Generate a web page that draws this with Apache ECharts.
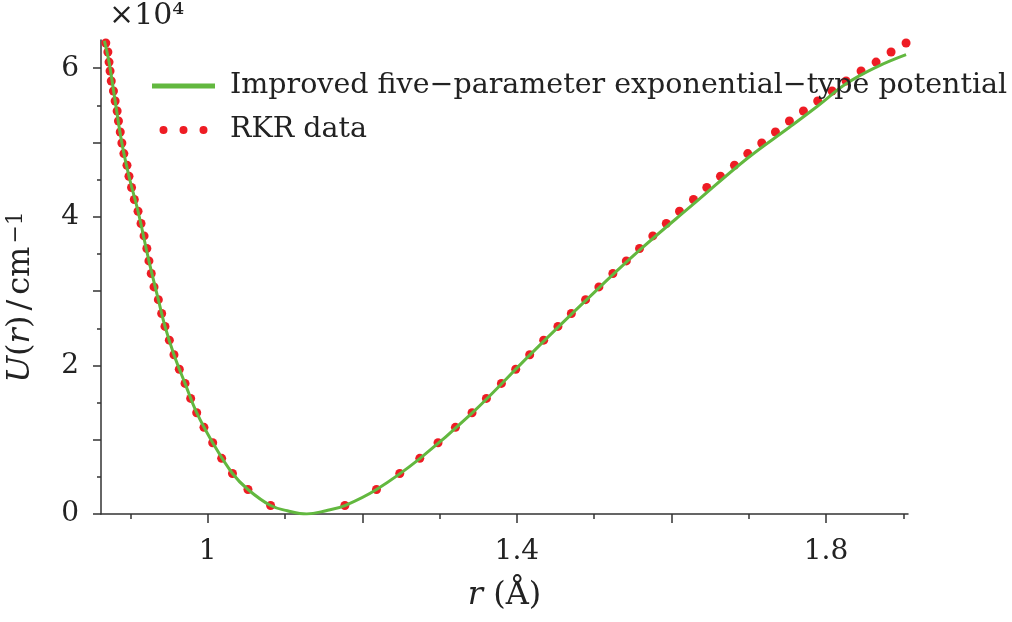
<!DOCTYPE html>
<html>
<head>
<meta charset="utf-8">
<style>
  html, body { margin: 0; padding: 0; background: #fff; }
  #chart { width: 1012px; height: 622px; }
</style>
<script src="https://cdn.jsdelivr.net/npm/echarts@6/dist/echarts.min.js"></script>
</head>
<body>
<div id="chart"></div>
<script>
// RKR turning points: energy levels (cm^-1) with inner / outer r (Å)
var levelU = [1140, 3300, 5450, 7490, 9590, 11660, 13630, 15560, 17580, 19480,
              21430, 23400, 25250, 26990, 28850, 30570, 32370, 34070, 35740, 37430,
              39100, 40750, 42330, 43940, 45460, 46940, 48510, 49940, 51420, 52900,
              54240, 55590, 56930, 58280, 59620, 60830, 62180, 63390];
var innerR = [1.0814, 1.0521, 1.0321, 1.0181, 1.0065, 0.9952, 0.9858, 0.9780, 0.9707, 0.9633,
              0.9564, 0.9504, 0.9448, 0.9405, 0.9362, 0.9306, 0.9270, 0.9240, 0.9213, 0.9177,
              0.9138, 0.9099, 0.9051, 0.9015, 0.8982, 0.8956, 0.8916, 0.8890, 0.8869, 0.8846,
              0.8829, 0.8803, 0.8781, 0.8753, 0.8737, 0.8724, 0.8709, 0.8682];
var outerR = [1.1775, 1.2184, 1.2485, 1.2744, 1.2980, 1.3205, 1.3420, 1.3606, 1.3800, 1.3985,
              1.4166, 1.4347, 1.4531, 1.4705, 1.4889, 1.5061, 1.5242, 1.5416, 1.5587, 1.5759,
              1.5933, 1.6104, 1.6285, 1.6457, 1.6634, 1.6815, 1.6987, 1.7168, 1.7345, 1.7526,
              1.7707, 1.7892, 1.8078, 1.8259, 1.8453, 1.8647, 1.8841, 1.9035];

// improved five-parameter exponential-type potential (green curve)
var fitR = [0.8664, 0.8724, 0.8803, 0.8890, 0.8982, 0.9099, 0.9240, 0.9362, 0.9448, 0.9564,
            0.9707, 0.9858, 1.0065, 1.0321, 1.0521, 1.0814, 1.1030, 1.1280, 1.1530, 1.1775,
            1.2184, 1.2744, 1.3420, 1.4166, 1.4889, 1.5587, 1.6298, 1.6983, 1.7526, 1.7888,
            1.8263, 1.8651, 1.9035];
var fitU = [63700, 60830, 55590, 49940, 45460, 40750, 34070, 28850, 25250, 21430,
            17580, 13630, 9590, 5450, 3300, 1140, 440, 0, 440, 1140,
            3300, 7460, 13580, 21390, 28720, 35510, 41830, 47880, 52050, 54880,
            57930, 60160, 61830];

var xLabelTicks = [1, 1.4, 1.8];
var xMajorTicks = [1, 1.2, 1.4, 1.6, 1.8];
var xMinorTicks = [0.9, 1.1, 1.3, 1.5, 1.7, 1.9];
var yLabelTicks = [0, 20000, 40000, 60000];
var yMajorTicks = [0, 10000, 20000, 30000, 40000, 50000, 60000];
var yMinorTicks = [5000, 15000, 25000, 35000, 45000, 55000];

var font = 'DejaVu Serif';
var ink = '#222';
var green = '#62b83f';
var red = '#ee1c24';

var rkr = [];
for (var i = 0; i < levelU.length; i++) {
    rkr.push([innerR[i], levelU[i]]);
    rkr.push([outerR[i], levelU[i]]);
}
var fit = [];
for (var j = 0; j < fitR.length; j++) {
    fit.push([fitR[j], fitU[j]]);
}

var axisLine = { show: true, lineStyle: { color: '#333', width: 1.5 } };
var tickStyle = { color: '#333', width: 1.5 };

var myChart = echarts.init(document.getElementById('chart'));

var option = {
    animation: false,
    title: {
        text: '×10⁴',
        left: 104,
        top: -4,
        textStyle: { fontFamily: font, fontSize: 30, fontWeight: 'normal', color: ink }
    },
    legend: {
        orient: 'vertical',
        left: 147,
        top: 65,
        itemWidth: 63,
        itemHeight: 8,
        itemGap: 12,
        textStyle: { fontFamily: font, fontSize: 28.5, color: ink, lineHeight: 32, padding: [0, 0, 0, 10] },
        data: [
            { name: 'Improved five−parameter exponential−type potential',
              icon: 'path://M0,0H63V5H0Z',
              itemStyle: { color: green, borderWidth: 0 } },
            { name: 'RKR data',
              icon: 'path://M0,4a4,4 0 1,0 8,0a4,4 0 1,0 -8,0M20,4a4,4 0 1,0 8,0a4,4 0 1,0 -8,0M40,4a4,4 0 1,0 8,0a4,4 0 1,0 -8,0Z',
              itemStyle: { color: red, borderWidth: 0 } }
        ]
    },
    grid: { left: 101, right: 104, top: 40, bottom: 108, containLabel: false, outerBoundsMode: 'none' },
    xAxis: [
        {
            type: 'value', min: 0.862, max: 1.906, position: 'bottom',
            axisLine: axisLine,
            axisTick: { show: true, customValues: xMajorTicks, length: 9, lineStyle: tickStyle },
            axisLabel: { customValues: xLabelTicks, fontFamily: font, fontSize: 28, color: ink, margin: 24,
                         formatter: function (v) { return String(+v.toFixed(1)); } },
            splitLine: { show: false },
            name: '{i|r} (Å)',
            nameLocation: 'middle',
            nameGap: 66,
            nameTextStyle: { fontFamily: font, fontSize: 32, color: ink,
                             rich: { i: { fontFamily: font, fontSize: 32, fontStyle: 'italic', color: ink } } }
        },
        {
            type: 'value', min: 0.862, max: 1.906, position: 'bottom',
            axisLine: { show: false },
            axisTick: { show: true, customValues: xMinorTicks, length: 5, lineStyle: tickStyle },
            axisLabel: { show: false },
            splitLine: { show: false }
        }
    ],
    yAxis: [
        {
            type: 'value', min: 0, max: 63800, position: 'left',
            axisLine: axisLine,
            axisTick: { show: true, customValues: yMajorTicks, length: 8, lineStyle: tickStyle },
            axisLabel: { customValues: yLabelTicks, fontFamily: font, fontSize: 28, color: ink, margin: 22,
                         formatter: function (v) { return String(Math.round(v / 10000)); } },
            splitLine: { show: false },
            name: '{i|U}{n|(}{i|r}{n|)}{p|/}{n|cm}{s|−1}',
            nameLocation: 'middle',
            nameGap: 64,
            nameTextStyle: {
                fontFamily: font, fontSize: 32, color: ink, padding: [0, 40, 0, 0],
                rich: {
                    i: { fontFamily: font, fontSize: 32, fontStyle: 'italic', color: ink, lineHeight: 32, verticalAlign: 'bottom' },
                    n: { fontFamily: font, fontSize: 32, color: ink, lineHeight: 32, verticalAlign: 'bottom' },
                    p: { fontFamily: font, fontSize: 32, color: ink, lineHeight: 32, verticalAlign: 'bottom', padding: [0, 5, 0, 5] },
                    s: { fontFamily: font, fontSize: 22, color: ink, lineHeight: 22, verticalAlign: 'top', padding: [0, 0, 0, 3] }
                }
            }
        },
        {
            type: 'value', min: 0, max: 63800, position: 'left',
            axisLine: { show: false },
            axisTick: { show: true, customValues: yMinorTicks, length: 4, lineStyle: tickStyle },
            axisLabel: { show: false },
            splitLine: { show: false }
        }
    ],
    series: [
        {
            name: 'RKR data',
            type: 'scatter',
            data: rkr,
            symbol: 'circle',
            symbolSize: 9,
            itemStyle: { color: red, opacity: 1 },
            z: 2
        },
        {
            name: 'Improved five−parameter exponential−type potential',
            type: 'line',
            data: fit,
            showSymbol: false,
            smooth: 0.4,
            lineStyle: { color: green, width: 3 },
            itemStyle: { color: green },
            z: 3
        }
    ]
};

myChart.setOption(option);
</script>
</body>
</html>
